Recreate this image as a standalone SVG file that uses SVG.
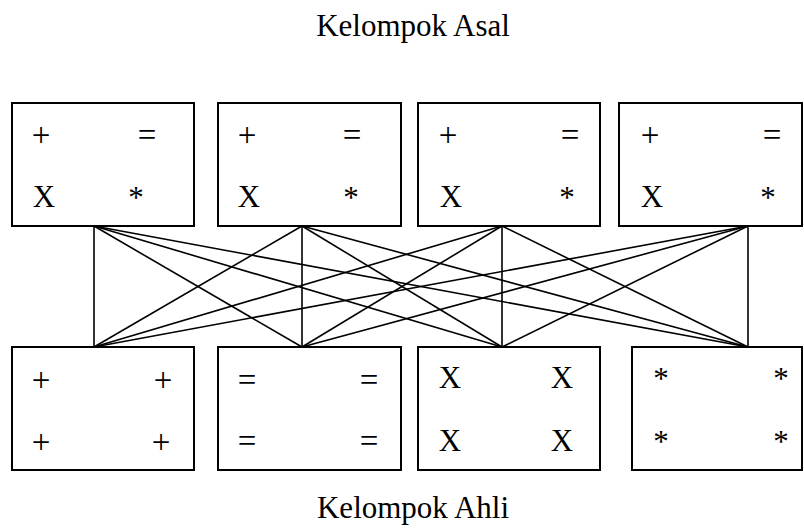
<svg xmlns="http://www.w3.org/2000/svg" width="804" height="528" viewBox="0 0 804 528">
<style>
.box{fill:#fff;stroke:#000;stroke-width:2}
.t{font-family:"Liberation Serif","Times New Roman",serif;font-size:31px;fill:#000;text-anchor:middle}
.s{font-size:33px}
.c line{stroke:#000;stroke-width:1.6}
</style>
<rect width="804" height="528" fill="#fff"/>
<text class="t" x="413" y="36">Kelompok Asal</text>
<g class="c" id="connectors">
<line x1="94" y1="226" x2="94" y2="347"/>
<line x1="94" y1="226" x2="302" y2="347"/>
<line x1="94" y1="226" x2="502" y2="347"/>
<line x1="94" y1="226" x2="748" y2="347"/>
<line x1="302" y1="226" x2="94" y2="347"/>
<line x1="302" y1="226" x2="302" y2="347"/>
<line x1="302" y1="226" x2="502" y2="347"/>
<line x1="302" y1="226" x2="748" y2="347"/>
<line x1="502" y1="226" x2="94" y2="347"/>
<line x1="502" y1="226" x2="302" y2="347"/>
<line x1="502" y1="226" x2="502" y2="347"/>
<line x1="502" y1="226" x2="748" y2="347"/>
<line x1="748" y1="226" x2="94" y2="347"/>
<line x1="748" y1="226" x2="302" y2="347"/>
<line x1="748" y1="226" x2="502" y2="347"/>
<line x1="748" y1="226" x2="748" y2="347"/>
</g>
<g id="asal1">
<rect class="box" x="12" y="103" width="182" height="123"/>
<text class="t s" x="41" y="146">+</text><text class="t s" x="147" y="146">=</text>
<text class="t" x="44" y="207">X</text><text class="t" x="136" y="208">*</text>
</g>
<g id="asal2">
<rect class="box" x="218" y="103" width="183" height="123"/>
<text class="t s" x="247" y="146">+</text><text class="t s" x="352" y="146">=</text>
<text class="t" x="249" y="207">X</text><text class="t" x="351" y="208">*</text>
</g>
<g id="asal3">
<rect class="box" x="418" y="103" width="182" height="123"/>
<text class="t s" x="448" y="146">+</text><text class="t s" x="570" y="146">=</text>
<text class="t" x="451" y="207">X</text><text class="t" x="567" y="208">*</text>
</g>
<g id="asal4">
<rect class="box" x="619" y="103" width="183" height="123"/>
<text class="t s" x="650" y="146">+</text><text class="t s" x="772" y="146">=</text>
<text class="t" x="652" y="207">X</text><text class="t" x="768" y="208">*</text>
</g>
<g id="ahli1">
<rect class="box" x="12" y="347" width="182" height="123"/>
<text class="t s" x="41" y="391">+</text><text class="t s" x="163" y="391">+</text>
<text class="t s" x="41" y="453">+</text><text class="t s" x="161" y="453">+</text>
</g>
<g id="ahli2">
<rect class="box" x="218" y="347" width="183" height="123"/>
<text class="t s" x="247" y="391">=</text><text class="t s" x="369" y="391">=</text>
<text class="t s" x="247" y="452">=</text><text class="t s" x="369" y="452">=</text>
</g>
<g id="ahli3">
<rect class="box" x="418" y="347" width="182" height="123"/>
<text class="t" x="450" y="388">X</text><text class="t" x="562" y="388">X</text>
<text class="t" x="450" y="451">X</text><text class="t" x="562" y="451">X</text>
</g>
<g id="ahli4">
<rect class="box" x="632" y="347" width="170" height="123"/>
<text class="t" x="661" y="389">*</text><text class="t" x="781" y="389">*</text>
<text class="t" x="661" y="452">*</text><text class="t" x="781" y="452">*</text>
</g>
<text class="t" x="413" y="518">Kelompok Ahli</text>
</svg>
